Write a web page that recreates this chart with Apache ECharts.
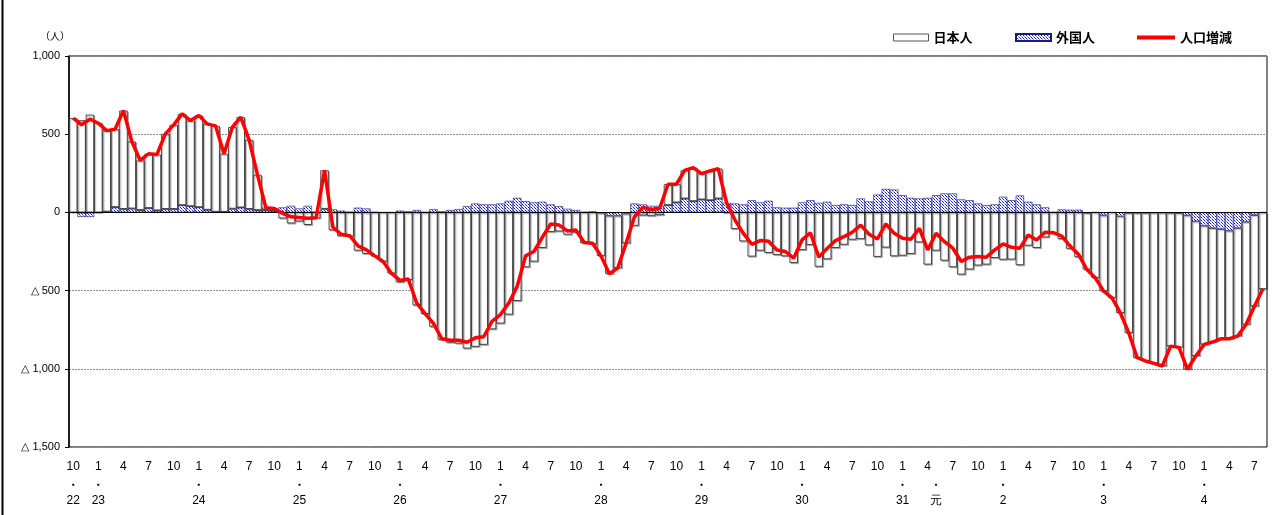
<!DOCTYPE html>
<html>
<head>
<meta charset="utf-8">
<script src="https://cdn.jsdelivr.net/npm/echarts@6/dist/echarts.min.js"></script>
<style>
html,body{margin:0;padding:0;background:#fff;}
#chart{width:1279px;height:515px;}
</style>
</head>
<body>
<div id="chart"></div>
<script>
// ---- data (monthly, Oct 2010 .. Aug 2022) ----
const startYear = 2010, startMonth = 10, monthCount = 143;

const totalChange = [
602,560,596,570,523,532,651,453,332,375,370,502,560,630,587,619,566,553,375,545,609,464,240,30,25,
-6,-28,-32,-38,-34,269,-95,-140,-149,-214,-240,-278,-314,-390,-435,-426,-579,-647,-710,-808,-817,-817,-830,-802,
-795,-696,-653,-579,-473,-278,-250,-159,-74,-81,-119,-113,-193,-197,-278,-392,-356,-197,-28,32,19,25,180,180,
269,286,248,265,280,60,-49,-134,-204,-180,-185,-240,-250,-293,-176,-130,-286,-231,-180,-155,-127,-81,-140,-170,
-74,-134,-166,-172,-102,-240,-134,-187,-229,-314,-286,-282,-286,-240,-202,-223,-229,-144,-176,-127,-130,-151,-215,-269,
-365,-418,-503,-546,-643,-770,-929,-950,-965,-982,-855,-863,-1003,-918,-844,-829,-808,-808,-791,-717,-600,-490
];

const foreigners = [
0,-29,-29,-3,5,34,22,25,15,28,13,22,22,47,40,34,17,4,4,24,32,22,15,15,10,
32,42,25,42,4,23,19,11,4,30,25,2,0,0,11,6,15,2,21,6,15,21,40,57,
51,51,57,74,93,72,64,68,51,40,23,15,3,6,-3,-21,-21,-8,57,51,42,42,47,64,
89,72,83,78,89,61,57,51,78,64,74,32,30,30,64,78,61,68,47,51,47,89,70,114,
150,146,110,93,89,93,110,121,121,83,78,57,47,51,100,78,108,68,51,32,2,19,17,17,
-3,0,-19,0,-25,-3,-3,-3,-2,-2,-3,-5,-19,-57,-85,-100,-106,-117,-100,-60,-17,0
];

const japanese = [
602,589,625,573,518,498,629,428,317,347,357,480,538,583,547,585,549,549,371,521,577,442,225,15,15,
-38,-70,-57,-80,-38,246,-114,-151,-153,-244,-265,-280,-314,-390,-446,-432,-594,-649,-731,-814,-832,-838,-870,-859,
-846,-747,-710,-653,-566,-350,-314,-227,-125,-121,-142,-128,-196,-203,-275,-371,-335,-189,-85,-19,-23,-17,133,116,
180,214,165,187,191,-1,-106,-185,-282,-244,-259,-272,-280,-323,-240,-208,-347,-299,-227,-206,-174,-170,-210,-284,
-224,-280,-276,-265,-191,-333,-244,-308,-350,-397,-364,-339,-333,-291,-302,-301,-337,-212,-227,-159,-132,-170,-232,-286,
-362,-418,-484,-546,-618,-767,-926,-947,-963,-980,-852,-858,-984,-861,-759,-729,-702,-691,-691,-657,-583,-490
];

// second-row (era year) tick labels
const yearTickIndex = [0, 3, 15, 27, 39, 51, 63, 75, 87, 99, 103, 111, 123, 135];
const yearTickText  = ['22','23','24','25','26','27','28','29','30','31','元','2','3','4'];

// categories (year-month keys)
const categories = [];
for (let k = 0; k < monthCount; k++) {
  const m0 = startMonth - 1 + k;
  categories.push((startYear + Math.floor(m0 / 12)) + '-' + (m0 % 12 + 1));
}

// dotted pattern for foreigners
function makePattern() {
  const c = document.createElement('canvas');
  c.width = 3; c.height = 3;
  const g = c.getContext('2d');
  g.fillStyle = '#ffffff'; g.fillRect(0, 0, 3, 3);
  g.fillStyle = '#1a1ad6';
  g.fillRect(0, 0, 1, 1);
  g.fillRect(1, 1, 1, 1);
  g.fillStyle = '#7f8cf0';
  g.fillRect(2, 2, 1, 1);
  return c;
}
const pattern = { image: makePattern(), repeat: 'repeat' };

const narrow = "'Liberation Sans Narrow','Liberation Sans',Arial,sans-serif";
const jp = "'Noto Sans CJK JP','Noto Sans',sans-serif";

const chart = echarts.init(document.getElementById('chart'), null, { renderer: 'canvas' });

function fmtY(v) {
  const a = Math.abs(v).toLocaleString('en-US');
  return v < 0 ? '△ ' + a : a;
}

const legendText = { fontFamily: jp, fontSize: 13, color: '#000', fontWeight: 'bold' };

const option = {
  animation: false,
  backgroundColor: '#fff',
  grid: { left: 69, right: 12, top: 56, bottom: 68, show: true, borderColor: '#000', borderWidth: 1, backgroundColor: 'transparent' },
  legend: [
    { data: [{ name: '日本人', icon: 'rect', itemStyle: { color: '#fff', borderColor: '#555', borderWidth: 1, shadowColor: 'transparent', shadowOffsetX: 0, shadowOffsetY: 0 } }],
      left: 888, top: 26, itemWidth: 35, itemHeight: 7, textStyle: legendText, itemGap: 0, selectedMode: false },
    { data: [{ name: '外国人', icon: 'rect' }], left: 1010, top: 26, itemWidth: 35, itemHeight: 7,
      textStyle: legendText, itemGap: 0, selectedMode: false },
    { data: [{ name: '人口増減', icon: 'rect', itemStyle: { color: '#ff0000' } }], left: 1132, top: 26, itemWidth: 38, itemHeight: 4,
      textStyle: legendText, itemGap: 0, selectedMode: false }
  ],
  xAxis: [
    {
      type: 'category', data: categories, boundaryGap: true, position: 'bottom',
      axisLine: { show: false }, axisTick: { show: false },
      axisLabel: {
        interval: (idx) => idx % 3 === 0,
        formatter: (val) => String(Number(val.split('-')[1])),
        fontFamily: narrow, fontSize: 12, color: '#000', margin: 14
      }
    },
    {
      type: 'category', data: categories, boundaryGap: true, position: 'bottom',
      axisLine: { show: false }, axisTick: { show: false },
      axisLabel: {
        interval: (idx) => yearTickIndex.indexOf(idx) >= 0,
        formatter: (val, idx) => '{d|・}\n{y|' + yearTickText[yearTickIndex.indexOf(idx)] + '}',
        margin: 30,
        rich: {
          d: { fontFamily: jp, fontSize: 9, color: '#000', lineHeight: 15, fontWeight: 'bold' },
          y: { fontFamily: narrow, fontSize: 12, color: '#000', lineHeight: 17 }
        }
      }
    }
  ],
  yAxis: {
    type: 'value', min: -1500, max: 1000, interval: 500,
    axisLine: { show: true, lineStyle: { color: '#000', width: 1.5 } },
    axisTick: { show: true, length: 4, lineStyle: { color: '#000' } },
    axisLabel: { formatter: fmtY, fontFamily: "'Liberation Sans',Arial,sans-serif", fontSize: 11, color: '#000', margin: 9 },
    splitLine: { show: true, lineStyle: { color: '#8c8c8c', type: [2, 1], width: 1 } }
  },
  graphic: [
    { type: 'text', left: 40, top: 31, style: { text: '（人）', fontFamily: jp, fontSize: 10, fill: '#000' } },
    { type: 'line', shape: { x1: 2.5, y1: 0, x2: 2.5, y2: 515 }, style: { stroke: '#000', lineWidth: 2 } }
  ],
  series: [
    {
      name: '外国人', type: 'bar', stack: 'pop', data: foreigners,
      barCategoryGap: '0%',
      itemStyle: { color: pattern, borderColor: '#1a1a80', borderWidth: 0.6 },
      z: 2
    },
    {
      name: '日本人', type: 'bar', stack: 'pop', data: japanese,
      barCategoryGap: '0%',
      itemStyle: { color: '#ffffff', borderColor: '#222', borderWidth: 0.8,
        shadowColor: 'rgba(0,0,0,0.28)', shadowOffsetX: 1.2, shadowOffsetY: 1.2, shadowBlur: 0 },
      markLine: {
        silent: true, symbol: 'none', label: { show: false },
        lineStyle: { color: '#000', type: 'solid', width: 1 },
        data: [{ yAxis: 0 }]
      },
      z: 2
    },
    {
      name: '人口増減', type: 'line', data: totalChange,
      showSymbol: false, symbol: 'none',
      lineStyle: { color: '#ff0000', width: 3.5 },
      itemStyle: { color: '#ff0000' },
      z: 5
    }
  ]
};
chart.setOption(option);
</script>
</body>
</html>
